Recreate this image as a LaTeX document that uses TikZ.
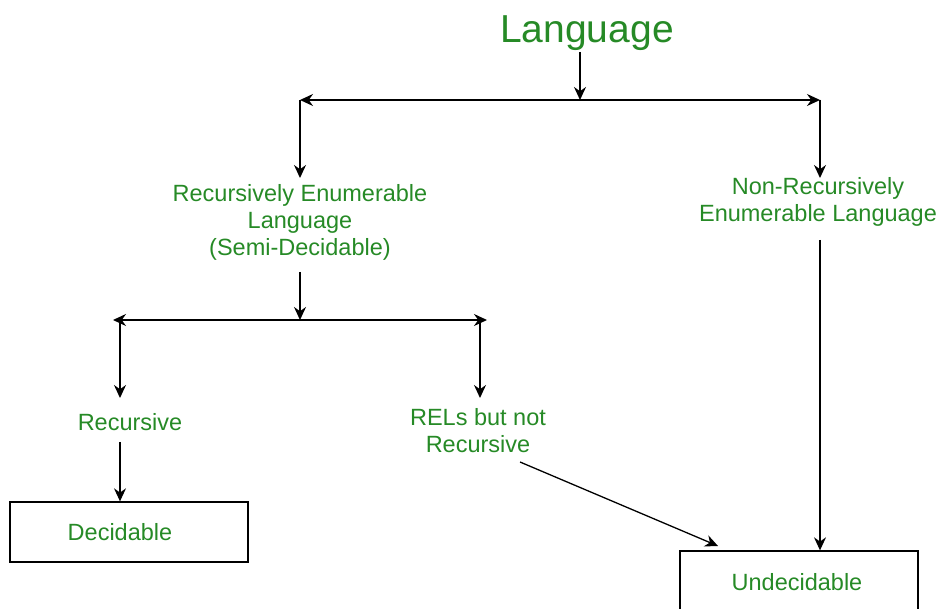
\documentclass[tikz,border=0pt]{standalone}
\usepackage{fontspec}
\setmainfont{Liberation Sans}
\usetikzlibrary{arrows.meta}
\definecolor{lblgreen}{RGB}{38,138,38}

\tikzset{
  lbl/.style={text=lblgreen, align=center, inner sep=6pt, font=\fontsize{23.5}{27}\selectfont},
  langbox/.style={draw, line width=1.3pt, minimum width=238pt, minimum height=60pt, inner sep=0pt},
  arr/.style={line width=1.3pt, -{Stealth[length=13pt,width=12pt]}},
  dblarr/.style={line width=1.3pt, {Stealth[length=13pt,width=12pt]}-{Stealth[length=13pt,width=12pt]}},
}

\begin{document}
\begin{tikzpicture}[x=1pt,y=-1pt]
\useasboundingbox (0,0) rectangle (943,609);

% labels
\node [lbl, font=\fontsize{39}{44}\selectfont] (lang) at (587,33) {Language};
\node [lbl] (rel) at (300,222) {Recursively Enumerable\\Language\\(Semi-Decidable)};
\node [lbl] (nre) at (818,201.5) {Non-Recursively\\Enumerable Language};
\node [lbl] (rec) at (130,422) {Recursive};
\node [lbl] (rnr) at (478,431) {RELs but not\\Recursive};

% boxes
\node [langbox] (dec) at (129,532) {};
\node [lbl] at (120,532) {Decidable};
\node [langbox, minimum height=62pt] (undec) at (799,582) {};
\node [lbl] at (797,582) {Undecidable};

% branch points
\coordinate (j1) at (580,100);
\coordinate (l1) at (300,100);
\coordinate (r1) at (820,100);
\coordinate (j2) at (300,320);
\coordinate (l2) at (113,320);
\coordinate (r2) at (487,320);

% first level
\draw [arr] (580,52) -- (j1);
\draw [dblarr] (l1) -- (r1);
\draw [arr] (l1) -- (300,178);
\draw [arr] (r1) -- (820,178);

% second level
\draw [arr] (300,272) -- (j2);
\draw [dblarr] (l2) -- (r2);
\draw [arr] (120,320) -- (120,398);
\draw [arr] (480,320) -- (480,398);

% into the boxes
\draw [arr] (120,442) -- (dec.north -| 120,0);
\draw [arr] (820,240) -- (undec.north -| 820,0);
\coordinate (d1) at (520,462);
\coordinate (d2) at (718,546);
\draw [arr] (d1) -- (d2);
\end{tikzpicture}
\end{document}
